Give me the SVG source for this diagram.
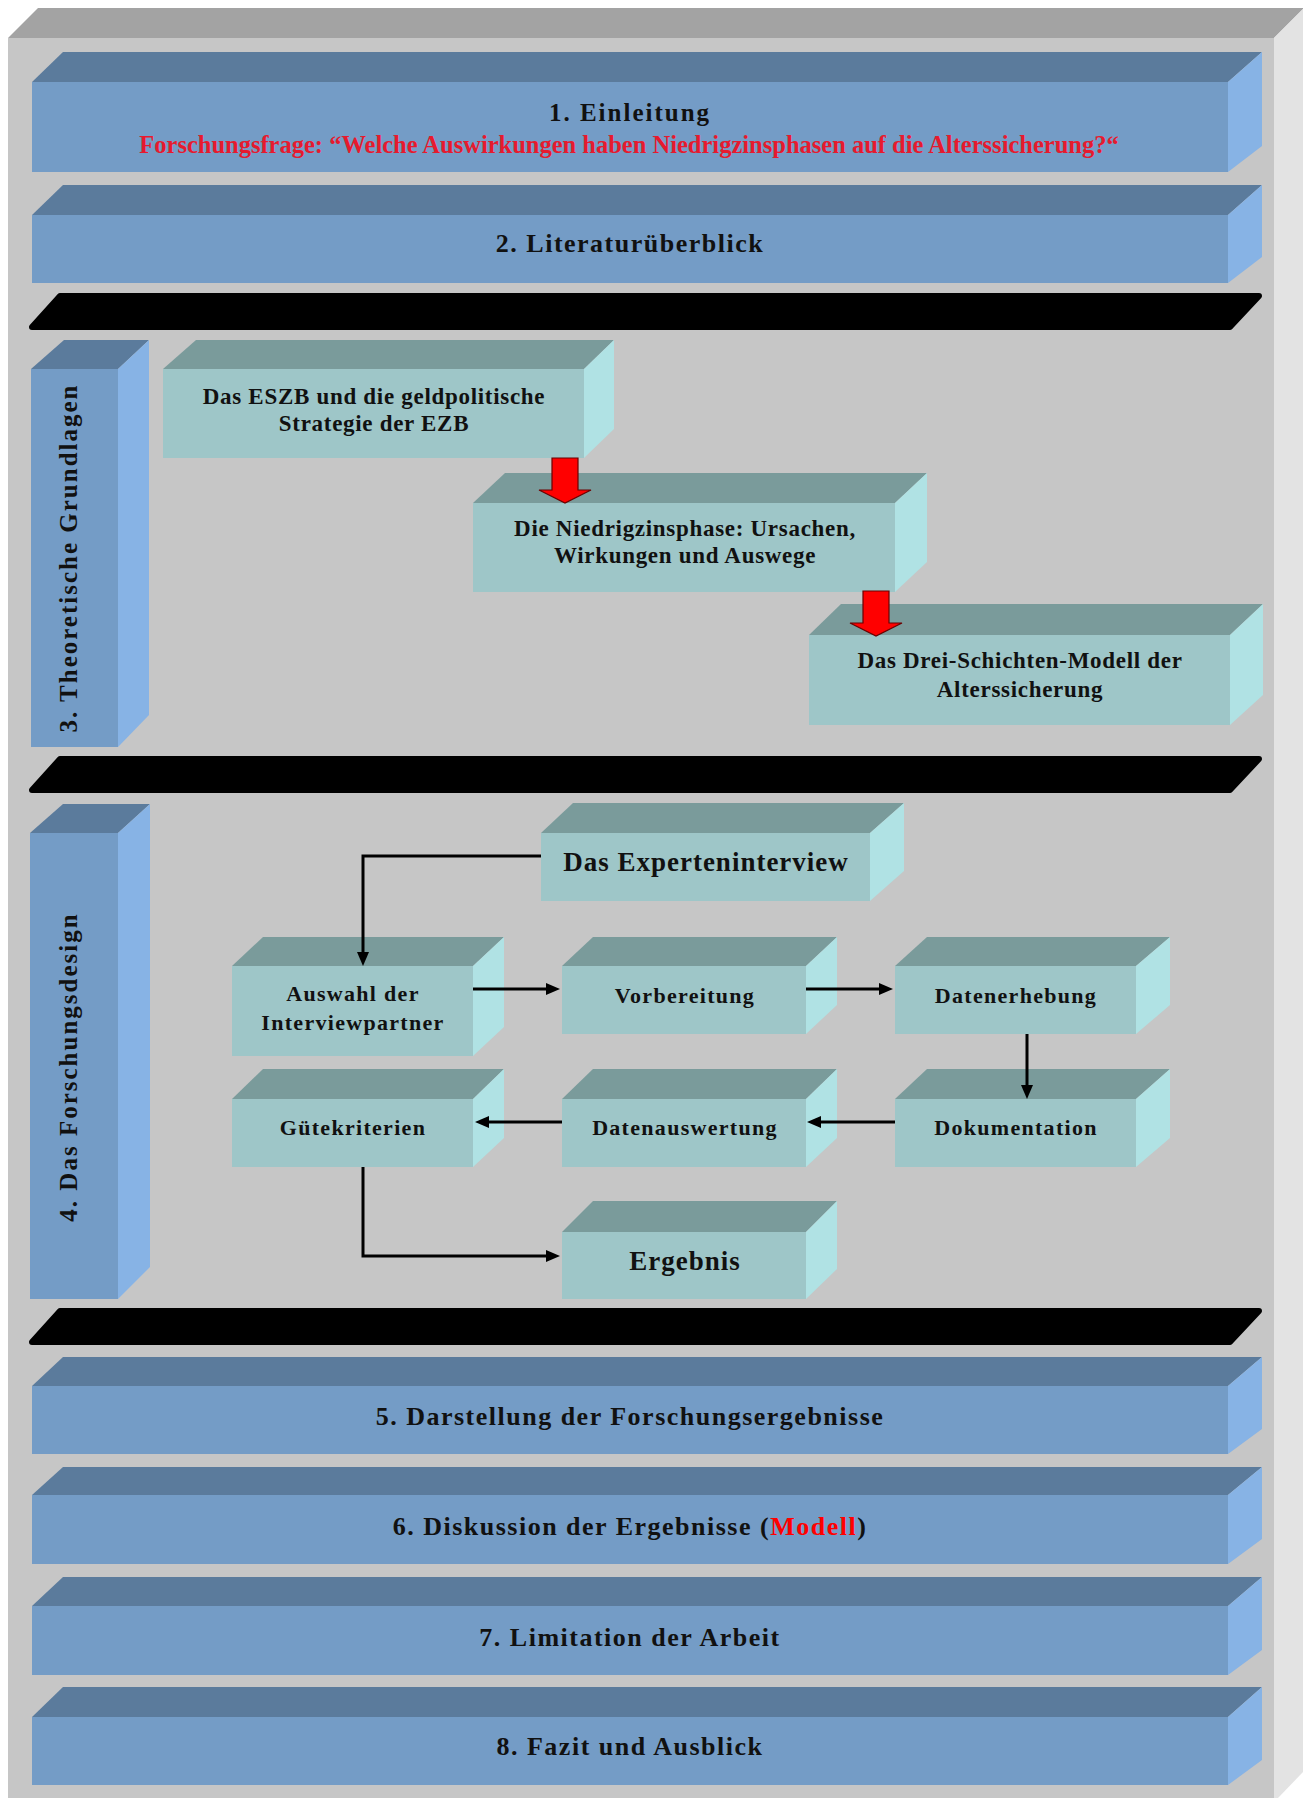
<svg xmlns="http://www.w3.org/2000/svg" width="1303" height="1798" viewBox="0 0 1303 1798">
<style>
.ot{fill:#a3a3a3}.of{fill:#c6c6c6}.os{fill:#e3e3e3}
.bt{fill:#5b7b9c}.bf{fill:#749cc6}.bs{fill:#87b3e5}
.tt{fill:#7a9b9b}.tf{fill:#9ec6c8}.ts{fill:#b0e2e4}
.bar{fill:#000;stroke:#000;stroke-width:6;stroke-linejoin:round}
.ra{fill:#ff0000;stroke:#6a0000;stroke-width:1.2;stroke-linejoin:miter}
text{font-family:"Liberation Serif","Times New Roman",serif;font-weight:bold;fill:#111;text-anchor:middle}
.ti{font-size:26px;letter-spacing:1.5px}
.t1{font-size:25px;letter-spacing:2px}
.rq{font-size:24.5px;fill:#e61a2e}
.s3{font-size:23px;letter-spacing:0.7px}
.s4{font-size:22px;letter-spacing:1.3px}
.big{font-size:27px;letter-spacing:1px}
.vl{font-size:25px;letter-spacing:2px}
.cn{fill:none;stroke:#000;stroke-width:3}
</style>
<defs>
<marker id="ah" markerUnits="userSpaceOnUse" markerWidth="14" markerHeight="12" refX="8" refY="6" orient="auto">
<path d="M0,0 L14,6 L0,12 z" fill="#000"/>
</marker>
</defs>

<g id="frame">
<polygon class="ot" points="38,8 1303,8 1303,9 1274,38 8,38"/>
<rect class="of" x="8" y="38" width="1266" height="1760"/>
<polygon class="os" points="1274,38 1303,9 1303,1772 1278,1798 1274,1798"/>
</g>

<g id="band1">
<polygon class="bt" points="63,52 1262,52 1228,82 32,82"/>
<rect class="bf" x="32" y="82" width="1196" height="90"/>
<polygon class="bs" points="1228,82 1262,52 1262,146 1228,172"/>
<text class="t1" x="630" y="121">1. Einleitung</text>
<text class="rq" x="629" y="153">Forschungsfrage: “Welche Auswirkungen haben Niedrigzinsphasen auf die Alterssicherung?“</text>
</g>

<g id="band2">
<polygon class="bt" points="63,185 1262,185 1228,215 32,215"/>
<rect class="bf" x="32" y="215" width="1196" height="68"/>
<polygon class="bs" points="1228,215 1262,185 1262,257 1228,283"/>
<text class="ti" x="630" y="252">2. Literaturüberblick</text>
</g>

<g id="bar1"><polygon class="bar" points="60,296 1259,296 1230,327 32,327"/></g>

<g id="sec3">
<polygon class="bt" points="64,340 149,340 118,369 31,369"/>
<rect class="bf" x="31" y="369" width="87" height="378"/>
<polygon class="bs" points="118,369 149,340 149,715 118,747"/>
<text class="vl" transform="translate(77,558) rotate(-90)">3. Theoretische Grundlagen</text>
</g>

<g id="eszb">
<polygon class="tt" points="196,340 614,340 584,369 163,369"/>
<rect class="tf" x="163" y="369" width="421" height="89"/>
<polygon class="ts" points="584,369 614,340 614,429 584,458"/>
<text class="s3" x="374" y="404">Das ESZB und die geldpolitische</text>
<text class="s3" x="374" y="431">Strategie der EZB</text>
</g>

<g id="niedrig">
<polygon class="tt" points="505,473 927,473 895,503 473,503"/>
<rect class="tf" x="473" y="503" width="422" height="89"/>
<polygon class="ts" points="895,503 927,473 927,562 895,592"/>
<text class="s3" x="685" y="536">Die Niedrigzinsphase: Ursachen,</text>
<text class="s3" x="685" y="563">Wirkungen und Auswege</text>
</g>

<g id="dreischicht">
<polygon class="tt" points="841,604 1263,604 1230,635 809,635"/>
<rect class="tf" x="809" y="635" width="421" height="90"/>
<polygon class="ts" points="1230,635 1263,604 1263,695 1230,725"/>
<text class="s3" x="1020" y="668">Das Drei-Schichten-Modell der</text>
<text class="s3" x="1020" y="697">Alterssicherung</text>
</g>

<g id="redarrows">
<polygon class="ra" points="552,458 578,458 578,490 591,490 565,503 539,490 552,490"/>
<polygon class="ra" points="863,591 889,591 889,623 902,623 876,636 850,623 863,623"/>
</g>

<g id="bar2"><polygon class="bar" points="60,759 1259,759 1230,790 32,790"/></g>

<g id="sec4">
<polygon class="bt" points="63,804 150,804 118,833 30,833"/>
<rect class="bf" x="30" y="833" width="88" height="466"/>
<polygon class="bs" points="118,833 150,804 150,1267 118,1299"/>
<text class="vl" transform="translate(77,1067) rotate(-90)">4. Das Forschungsdesign</text>
</g>

<g id="experten">
<polygon class="tt" points="573,803 904,803 870,833 541,833"/>
<rect class="tf" x="541" y="833" width="329" height="68"/>
<polygon class="ts" points="870,833 904,803 904,871 870,901"/>
<text class="big" x="706" y="871">Das Experteninterview</text>
</g>

<g id="auswahl">
<polygon class="tt" points="263,937 504,937 473,966 232,966"/>
<rect class="tf" x="232" y="966" width="241" height="90"/>
<polygon class="ts" points="473,966 504,937 504,1027 473,1056"/>
<text class="s4" x="353" y="1001">Auswahl der</text>
<text class="s4" x="353" y="1030">Interviewpartner</text>
</g>

<g id="vorbereitung">
<polygon class="tt" points="593,937 837,937 806,966 562,966"/>
<rect class="tf" x="562" y="966" width="244" height="68"/>
<polygon class="ts" points="806,966 837,937 837,1005 806,1034"/>
<text class="s4" x="685" y="1003">Vorbereitung</text>
</g>

<g id="datenerhebung">
<polygon class="tt" points="927,937 1170,937 1136,966 895,966"/>
<rect class="tf" x="895" y="966" width="241" height="68"/>
<polygon class="ts" points="1136,966 1170,937 1170,1005 1136,1034"/>
<text class="s4" x="1016" y="1003">Datenerhebung</text>
</g>

<g id="guete">
<polygon class="tt" points="263,1069 504,1069 473,1099 232,1099"/>
<rect class="tf" x="232" y="1099" width="241" height="68"/>
<polygon class="ts" points="473,1099 504,1069 504,1138 473,1167"/>
<text class="s4" x="353" y="1135">Gütekriterien</text>
</g>

<g id="datenauswertung">
<polygon class="tt" points="593,1069 837,1069 806,1099 562,1099"/>
<rect class="tf" x="562" y="1099" width="244" height="68"/>
<polygon class="ts" points="806,1099 837,1069 837,1138 806,1167"/>
<text class="s4" x="685" y="1135">Datenauswertung</text>
</g>

<g id="dokumentation">
<polygon class="tt" points="927,1069 1170,1069 1136,1099 895,1099"/>
<rect class="tf" x="895" y="1099" width="241" height="68"/>
<polygon class="ts" points="1136,1099 1170,1069 1170,1138 1136,1167"/>
<text class="s4" x="1016" y="1135">Dokumentation</text>
</g>

<g id="ergebnis">
<polygon class="tt" points="593,1201 837,1201 806,1232 562,1232"/>
<rect class="tf" x="562" y="1232" width="244" height="67"/>
<polygon class="ts" points="806,1232 837,1201 837,1269 806,1299"/>
<text class="big" x="685" y="1270">Ergebnis</text>
</g>

<g id="connectors">
<path class="cn" d="M541,856 H363 V960" marker-end="url(#ah)"/>
<path class="cn" d="M473,989 H554" marker-end="url(#ah)"/>
<path class="cn" d="M806,989 H887" marker-end="url(#ah)"/>
<path class="cn" d="M1027,1034 V1093" marker-end="url(#ah)"/>
<path class="cn" d="M895,1122 H813" marker-end="url(#ah)"/>
<path class="cn" d="M562,1122 H481" marker-end="url(#ah)"/>
<path class="cn" d="M363,1167 V1256 H554" marker-end="url(#ah)"/>
</g>

<g id="bar3"><polygon class="bar" points="60,1311 1259,1311 1230,1342 32,1342"/></g>

<g id="band5">
<polygon class="bt" points="63,1357 1262,1357 1228,1386 32,1386"/>
<rect class="bf" x="32" y="1386" width="1196" height="68"/>
<polygon class="bs" points="1228,1386 1262,1357 1262,1429 1228,1454"/>
<text class="ti" x="630" y="1425">5. Darstellung der Forschungsergebnisse</text>
</g>

<g id="band6">
<polygon class="bt" points="63,1467 1262,1467 1228,1495 32,1495"/>
<rect class="bf" x="32" y="1495" width="1196" height="69"/>
<polygon class="bs" points="1228,1495 1262,1467 1262,1539 1228,1564"/>
<text class="ti" x="630" y="1535">6. Diskussion der Ergebnisse (<tspan fill="#ff0000">Modell</tspan>)</text>
</g>

<g id="band7">
<polygon class="bt" points="63,1577 1262,1577 1228,1606 32,1606"/>
<rect class="bf" x="32" y="1606" width="1196" height="69"/>
<polygon class="bs" points="1228,1606 1262,1577 1262,1650 1228,1675"/>
<text class="ti" x="630" y="1646">7. Limitation der Arbeit</text>
</g>

<g id="band8">
<polygon class="bt" points="63,1687 1262,1687 1228,1717 32,1717"/>
<rect class="bf" x="32" y="1717" width="1196" height="68"/>
<polygon class="bs" points="1228,1717 1262,1687 1262,1760 1228,1785"/>
<text class="ti" x="630" y="1755">8. Fazit und Ausblick</text>
</g>
</svg>
